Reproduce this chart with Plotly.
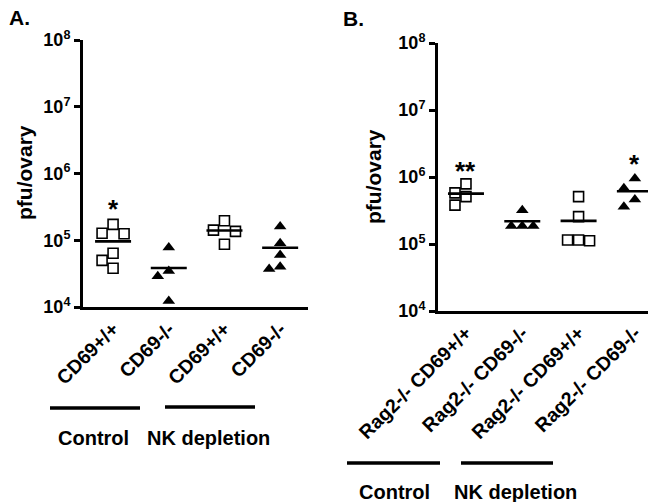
import math
import plotly.graph_objects as go

# ---------------- data ----------------
cats_a = ["CD69+/+", "CD69-/-", "CD69+/+", "CD69-/-"]
a_ctrl_wt = [1.73e5, 1.25e5, 1.27e5, 6.4e4, 5.0e4, 3.8e4]
a_ctrl_ko = [7.8e4, 3.46e4, 2.9e4, 1.23e4]
a_nk_wt = [1.42e5, 1.36e5, 1.96e5, 8.7e4]
a_nk_ko = [1.6e5, 9.0e4, 6.0e4, 3.7e4, 4.0e4]

cats_b = ["Rag2-/- CD69+/+", "Rag2-/- CD69-/-", "Rag2-/- CD69+/+", "Rag2-/- CD69-/-"]
b_ctrl_wt = [7.9e5, 3.8e5, 5.1e5, 5.8e5]
b_ctrl_ko = [3.2e5, 1.85e5, 1.85e5, 1.85e5]
b_nk_wt = [5.1e5, 2.56e5, 1.15e5, 1.12e5, 1.15e5]
b_nk_ko = [9.5e5, 6.8e5, 4.6e5, 3.6e5]

tick_vals = [1e4, 1e5, 1e6, 1e7, 1e8]
tick_text = ["10<sup>4</sup>", "10<sup>5</sup>", "10<sup>6</sup>", "10<sup>7</sup>", "10<sup>8</sup>"]
groups = ["Control", "NK depletion"]

# ---------------- layout geometry ----------------
W, H = 656, 502
OFF = 8  # page margin offset in the photographed window
FONT = "Liberation Sans"

def px(x):
    return (x - OFF) / W

def py(y):
    return 1 - (y - OFF) / H

def b(s):
    return "<b>" + s + "</b>"

xa_dom = [px(83), px(308)]
ya_dom = [py(307), py(40)]
xb_dom = [px(438), 1.0]
yb_dom = [py(311), py(43)]
xa_rng = [-0.54, 3.5]
xb_lo = -0.497
xb_rng = [xb_lo, xb_lo + (xb_dom[1] - xb_dom[0]) * W / 56.3]


def swarm(values, center, px_per_x, px_per_dec, d=11.0, step=5.5):
    n = len(values)
    order = sorted(range(n), key=lambda i: -values[i])
    offsets = [0.0]
    for k in range(1, 12):
        offsets += [-k * step, k * step]
    placed = []
    res = [center] * n
    for i in order:
        yp = math.log10(values[i]) * px_per_dec
        chosen = offsets[-1]
        for off in offsets:
            if all(max(abs(off - a), abs(yp - bb)) >= d - 1e-9 for a, bb in placed):
                chosen = off
                break
        placed.append((chosen, yp))
        res[i] = center + chosen / px_per_x
    return res


fig = go.Figure()


def add_panel(series, symbols, xref, yref, dom_x, rng_x, dom_y):
    ppx = (dom_x[1] - dom_x[0]) * W / (rng_x[1] - rng_x[0])
    ppd = (dom_y[1] - dom_y[0]) * H / 4.0
    for i, (vals, sym) in enumerate(zip(series, symbols)):
        xs = swarm(vals, i, ppx, ppd)
        if sym == "square-open":
            marker = dict(symbol=sym, size=10, color="black", line=dict(width=1.6, color="black"))
        else:
            marker = dict(symbol=sym, size=11, color="black", line=dict(width=0))
        fig.add_trace(go.Scatter(x=xs, y=vals, mode="markers", marker=marker,
                                 xaxis=xref, yaxis=yref, showlegend=False, cliponaxis=False))
        m = sum(vals) / len(vals)
        half = 18.0 / ppx
        fig.add_trace(go.Scatter(x=[i - half, i + half], y=[m, m], mode="lines",
                                 line=dict(color="black", width=2.6),
                                 xaxis=xref, yaxis=yref, showlegend=False, cliponaxis=False))


add_panel([a_ctrl_wt, a_ctrl_ko, a_nk_wt, a_nk_ko],
          ["square-open", "triangle-up", "square-open", "triangle-up"],
          "x", "y", xa_dom, xa_rng, ya_dom)
add_panel([b_ctrl_wt, b_ctrl_ko, b_nk_wt, b_nk_ko],
          ["square-open", "triangle-up", "square-open", "triangle-up"],
          "x2", "y2", xb_dom, xb_rng, yb_dom)

yaxis_common = dict(type="log", range=[4, 8], tickvals=tick_vals, ticktext=[b(t) for t in tick_text],
                    showline=True, linewidth=3, linecolor="black", ticks="outside",
                    ticklen=6, tickwidth=3, tickcolor="black", showgrid=False, zeroline=False,
                    tickfont=dict(family=FONT, size=18, color="black"),
                    automargin=False)
xaxis_common = dict(showline=True, linewidth=3, linecolor="black", ticks="", showgrid=False,
                    zeroline=False, tickangle=-45, tickvals=[0, 1, 2, 3],
                    tickfont=dict(family=FONT, size=19.5, color="black"),
                    automargin=False)

fig.update_layout(
    width=W, height=H, margin=dict(l=0, r=0, t=0, b=0),
    paper_bgcolor="white", plot_bgcolor="white", showlegend=False,
    xaxis=dict(domain=xa_dom, range=xa_rng, ticktext=[b(c) for c in cats_a], anchor="y", **xaxis_common),
    yaxis=dict(domain=ya_dom, anchor="x", **yaxis_common),
    xaxis2=dict(domain=xb_dom, range=xb_rng, ticktext=[b(c) for c in cats_b], anchor="y2", **xaxis_common),
    yaxis2=dict(domain=yb_dom, anchor="x2", **yaxis_common),
)

fnt = lambda s: dict(family=FONT, size=s, color="black")
ann = []
# panel letters
ann.append(dict(text=b("A."), x=px(19), y=py(18), xref="paper", yref="paper", xanchor="center",
                yanchor="middle", showarrow=False, font=fnt(21)))
ann.append(dict(text=b("B."), x=px(353), y=py(19), xref="paper", yref="paper", xanchor="center",
                yanchor="middle", showarrow=False, font=fnt(21)))
# y titles
ann.append(dict(text=b("pfu/ovary"), x=px(25), y=py(173), xref="paper", yref="paper",
                xanchor="center", yanchor="middle",
                textangle=-90, showarrow=False, font=fnt(21)))
ann.append(dict(text=b("pfu/ovary"), x=px(374), y=py(177), xref="paper", yref="paper",
                xanchor="center", yanchor="middle",
                textangle=-90, showarrow=False, font=fnt(21)))
# significance
ann.append(dict(text=b("*"), x=0, y=math.log10(4.0e5), xref="x", yref="y", showarrow=False,
                xanchor="center", yanchor="middle", font=fnt(26), yshift=-9))
ann.append(dict(text=b("**"), x=0, y=math.log10(1.67e6), xref="x2", yref="y2", showarrow=False,
                xanchor="center", yanchor="middle", font=fnt(26), yshift=-9))
ann.append(dict(text=b("*"), x=3, y=math.log10(2.1e6), xref="x2", yref="y2", showarrow=False,
                xanchor="center", yanchor="middle", font=fnt(26), yshift=-9))
# group labels
for txt, xx, yy in [(groups[0], 93, 438), (groups[1], 208, 438),
                    (groups[0], 394, 492), (groups[1], 515, 492)]:
    ann.append(dict(text=b(txt), x=px(xx), y=py(yy), xref="paper", yref="paper",
                    xanchor="center", yanchor="middle", showarrow=False, font=fnt(20)))
fig.update_layout(annotations=ann)

shapes = []
for x0, x1, yy in [(50, 140, 408), (165, 255, 407), (347, 440, 463), (461, 553, 463)]:
    shapes.append(dict(type="line", xref="paper", yref="paper", x0=px(x0), x1=px(x1),
                       y0=py(yy), y1=py(yy), line=dict(color="black", width=3.5)))
fig.update_layout(shapes=shapes)

fig.write_html("out.html")
